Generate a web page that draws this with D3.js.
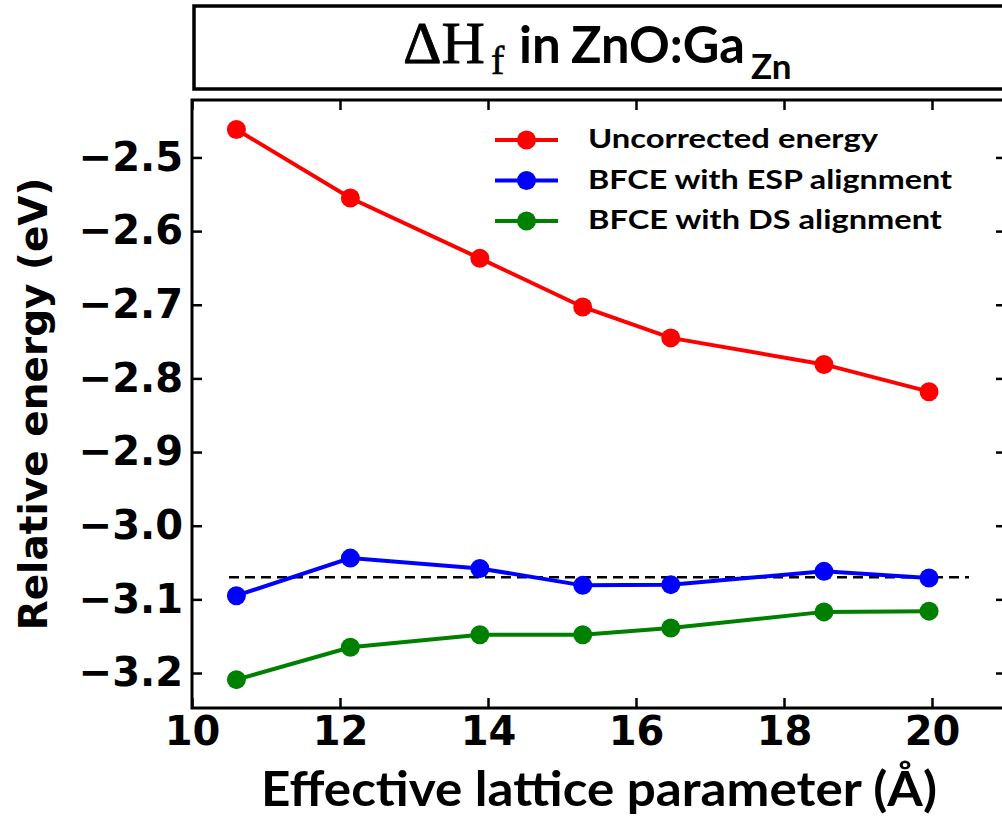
<!DOCTYPE html>
<html><head><meta charset="utf-8">
<script src="https://cdn.jsdelivr.net/npm/d3@7"></script>
<style>html,body{margin:0;padding:0;background:#fff;overflow:hidden}</style>
</head><body>
<svg id="chart" width="1002" height="821"></svg>
<script>
// ---- data ----
const latticeParam = [10.60, 12.14, 13.89, 15.28, 16.47, 18.54, 19.96];
const uncorrected  = [-2.462, -2.555, -2.637, -2.703, -2.745, -2.781, -2.818];
const bfceESP      = [-3.095, -3.044, -3.058, -3.081, -3.080, -3.062, -3.071];
const bfceDS       = [-3.209, -3.165, -3.148, -3.148, -3.139, -3.117, -3.116];
const seriesNames  = ["Uncorrected energy", "BFCE with ESP alignment", "BFCE with DS alignment"];
const seriesColors = ["#ff0000", "#0000ff", "#008000"];
const refLevel = -3.07, refRange = [10.5, 20.5];
const xTicks = [10, 12, 14, 16, 18, 20];
const yTicks = [-2.5, -2.6, -2.7, -2.8, -2.9, -3.0, -3.1, -3.2];

const svg = d3.select("#chart");
const L = 192, R = 1006, T = 100, B = 708;
const x = d3.scaleLinear().domain([10, 21]).range([L, R]);
const y = d3.scaleLinear().domain([-3.2475, -2.422]).range([B, T]);

// title box
svg.append("rect").attr("x", 194).attr("y", 6).attr("width", 900).attr("height", 83)
  .attr("fill", "#fff").attr("stroke", "#000").attr("stroke-width", 3.5);
const title = svg.append("text").attr("y", 63).attr("fill", "#000");
title.append("tspan").attr("x", 403).attr("font-family", "Liberation Serif").attr("font-size", 60)
  .attr("stroke", "#000").attr("stroke-width", 0.8).text("ΔH");
title.append("tspan").attr("x", 491).attr("dy", 11).attr("font-family", "Liberation Serif").attr("font-size", 40)
  .attr("stroke", "#000").attr("stroke-width", 0.6).text("f");
title.append("tspan").attr("x", 519).attr("dy", -11).attr("font-family", "Lato").attr("font-weight", "bold").attr("font-size", 51).text("in");
title.append("tspan").attr("x", 571).attr("font-family", "Lato").attr("font-weight", "bold").attr("font-size", 51)
  .attr("textLength", 174).attr("lengthAdjust", "spacingAndGlyphs").text("ZnO:Ga");
title.append("tspan").attr("x", 751).attr("dy", 16).attr("font-family", "Lato").attr("font-weight", "bold").attr("font-size", 35).text("Zn");

// axes
const tickFont = g => g.selectAll("text").attr("font-family", "DejaVu Sans").attr("font-weight", "bold")
  .attr("font-size", 40).attr("fill", "#000");
const tickLines = g => { g.select(".domain").remove(); g.selectAll("line").attr("stroke", "#000").attr("stroke-width", 2.5); };

svg.append("g").attr("transform", `translate(${L},0)`)
  .call(d3.axisLeft(y).tickValues(yTicks).tickFormat(d3.format(".1f")).tickSizeInner(-10).tickSizeOuter(0).tickPadding(9))
  .call(tickLines).call(tickFont);
svg.append("g").attr("transform", `translate(${R},0)`)
  .call(d3.axisRight(y).tickValues(yTicks).tickFormat("").tickSizeInner(-10).tickSizeOuter(0))
  .call(tickLines);
svg.append("g").attr("transform", `translate(0,${B})`)
  .call(d3.axisBottom(x).tickValues(xTicks).tickFormat(d3.format("d")).tickSizeInner(-10).tickSizeOuter(0).tickPadding(9))
  .call(tickLines).call(tickFont);
svg.append("g").attr("transform", `translate(0,${T})`)
  .call(d3.axisTop(x).tickValues(xTicks).tickFormat("").tickSizeInner(-10).tickSizeOuter(0))
  .call(tickLines);

// frame
svg.append("rect").attr("x", L).attr("y", T).attr("width", R - L).attr("height", B - T)
  .attr("fill", "none").attr("stroke", "#000").attr("stroke-width", 3);

// axis labels
svg.append("text").attr("transform", `translate(47,404) rotate(-90)`).attr("text-anchor", "middle")
  .attr("font-family", "DejaVu Sans").attr("font-weight", "bold").attr("font-size", 39).text("Relative energy (eV)");
svg.append("text").attr("x", 599).attr("y", 806).attr("text-anchor", "middle")
  .attr("font-family", "Lato").attr("font-weight", "bold").attr("font-size", 47)
  .attr("textLength", 676).attr("lengthAdjust", "spacingAndGlyphs").text("Effective lattice parameter (Å)");

// reference dashed line
svg.append("line").attr("x1", x(refRange[0])).attr("x2", x(refRange[1]))
  .attr("y1", y(refLevel)).attr("y2", y(refLevel))
  .attr("stroke", "#000").attr("stroke-width", 2.5).attr("stroke-dasharray", "10,6");

// series
const allSeries = [uncorrected, bfceESP, bfceDS];
const line = d3.line().x(d => x(d[0])).y(d => y(d[1]));
allSeries.forEach((vals, i) => {
  const pts = latticeParam.map((v, j) => [v, vals[j]]);
  svg.append("path").datum(pts).attr("d", line).attr("fill", "none")
    .attr("stroke", seriesColors[i]).attr("stroke-width", 4);
  svg.append("g").selectAll("circle").data(pts).join("circle")
    .attr("cx", d => x(d[0])).attr("cy", d => y(d[1])).attr("r", 9.5).attr("fill", seriesColors[i]);
});

// legend
const legY = [140, 180.5, 221], legW = [290, 364, 354];
seriesNames.forEach((name, i) => {
  const g = svg.append("g");
  g.append("line").attr("x1", 495).attr("x2", 558).attr("y1", legY[i]).attr("y2", legY[i])
    .attr("stroke", seriesColors[i]).attr("stroke-width", 4);
  g.append("circle").attr("cx", 526.5).attr("cy", legY[i]).attr("r", 9.5).attr("fill", seriesColors[i]);
  g.append("text").attr("x", 588).attr("y", legY[i] + 8)
    .attr("font-family", "Lato").attr("font-weight", "bold").attr("font-size", 27)
    .attr("textLength", legW[i]).attr("lengthAdjust", "spacingAndGlyphs").text(name);
});
</script>
</body></html>
